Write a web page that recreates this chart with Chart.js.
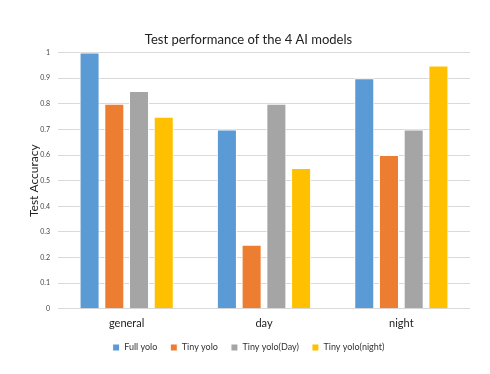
<!DOCTYPE html>
<html>
<head>
<meta charset="utf-8">
<script src="https://cdn.jsdelivr.net/npm/chart.js@4"></script>
<style>
  html, body { margin: 0; padding: 0; background: #fff; }
  #wrap { width: 490px; height: 374px; }
</style>
</head>
<body>
<div id="wrap"><canvas id="chart" width="490" height="374"></canvas></div>
<script>
var categories = ["general", "day", "night"];
var seriesNames = ["Full yolo", "Tiny yolo", "Tiny yolo(Day)", "Tiny yolo(night)"];
var fullYolo = [1.0, 0.7, 0.9];
var tinyYolo = [0.8, 0.25, 0.6];
var tinyYoloDay = [0.85, 0.8, 0.7];
var tinyYoloNight = [0.75, 0.55, 0.95];
var colors = ["#5B9BD5", "#ED7D31", "#A5A5A5", "#FFC000"];

var FONT = "Lato, 'Open Sans', sans-serif";

function makeSet(i, values) {
  return {
    label: seriesNames[i],
    data: values,
    backgroundColor: colors[i],
    borderColor: "#ffffff",
    borderWidth: 1,
    barPercentage: 0.81,
    categoryPercentage: 0.72
  };
}

var ctx = document.getElementById("chart");
new Chart(ctx, {
  type: "bar",
  data: {
    labels: categories,
    datasets: [
      makeSet(0, fullYolo),
      makeSet(1, tinyYolo),
      makeSet(2, tinyYoloDay),
      makeSet(3, tinyYoloNight)
    ]
  },
  options: {
    responsive: false,
    animation: false,
    layout: { padding: { left: 27, right: 20, top: 0, bottom: 12 } },
    plugins: {
      title: {
        display: true,
        text: "Test performance of the 4 AI models",
        color: "#222",
        font: { family: FONT, size: 13, weight: "normal" },
        padding: { top: 32, bottom: 5 }
      },
      legend: {
        position: "bottom",
        labels: {
          color: "#333",
          font: { family: FONT, size: 9 },
          boxWidth: 7,
          boxHeight: 7,
          padding: 13
        }
      },
      tooltip: { enabled: false }
    },
    scales: {
      x: {
        grid: { display: false },
        border: { display: false },
        ticks: { color: "#222", font: { family: FONT, size: 11 }, padding: 0 }
      },
      y: {
        min: 0,
        max: 1,
        afterFit: function (scale) { scale.width = 31; },
        ticks: {
          stepSize: 0.1,
          color: "#444",
          font: { family: FONT, size: 7 },
          padding: 8,
          callback: function (v) { return String(Math.round(v * 10) / 10); }
        },
        grid: { color: "#d9d9d9", drawTicks: false },
        border: { display: false },
        title: {
          display: true,
          text: "Test Accuracy",
          color: "#222",
          font: { family: FONT, size: 12 },
          padding: { top: 0, bottom: 2 }
        }
      }
    }
  }
});
</script>
</body>
</html>
